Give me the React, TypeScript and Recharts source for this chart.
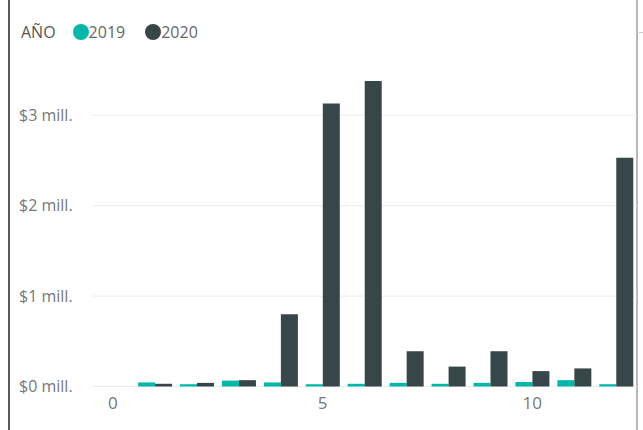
import { BarChart, Bar, XAxis, YAxis, CartesianGrid } from "recharts";

const meses = [0, 1, 2, 3, 4, 5, 6, 7, 8, 9, 10, 11, 12];
// ventas en millones de dólares
const ventas2019 = [null, 0.045, 0.025, 0.065, 0.045, 0.025, 0.03, 0.04, 0.03, 0.04, 0.05, 0.07, 0.025];
const ventas2020 = [null, 0.03, 0.04, 0.07, 0.8, 3.13, 3.38, 0.39, 0.22, 0.39, 0.17, 0.2, 2.53];
const yTicks = [0, 1, 2, 3];

const series = [
  { key: "v2019", name: "2019", color: "#01B8AA" },
  { key: "v2020", name: "2020", color: "#374649" },
];

const data = meses.map((m, i) => ({ mes: m, v2019: ventas2019[i], v2020: ventas2020[i] }));

const font = "'Open Sans', 'Noto Sans', sans-serif";

function YTick({ y, payload }: any) {
  return (
    <text x={19} y={y} dy={5.5} textAnchor="start" fill="#777" fontSize={16} fontFamily={font}>
      {`$${payload.value} mill.`}
    </text>
  );
}

function LegendBox() {
  return (
    <div
      style={{
        position: "absolute",
        left: 21,
        top: 22,
        display: "flex",
        alignItems: "center",
        fontFamily: font,
        fontSize: 16,
        color: "#666",
        lineHeight: "20px",
      }}
    >
      <span style={{ color: "#555", marginRight: 17, fontWeight: 500 }}>AÑO</span>
      {series.map((s) => (
        <span key={s.key} style={{ display: "flex", alignItems: "center", marginRight: 20 }}>
          <span
            style={{ width: 16, height: 16, borderRadius: "50%", background: s.color, display: "inline-block", marginRight: 0 }}
          />
          {s.name}
        </span>
      ))}
    </div>
  );
}

export default function App() {
  return (
    <div style={{ position: "absolute", left: 0, top: 0, width: 643, height: 430, background: "#fff" }}>
      <div style={{ position: "absolute", left: 8, top: 0, width: 2, height: 430, background: "#5a5a5a" }} />
      <div style={{ position: "absolute", left: 636, top: 0, width: 2, height: 430, background: "#b8b8b8" }} />
      <div style={{ position: "absolute", left: 639, top: 32, width: 4, height: 1, background: "#ccc" }} />
      <LegendBox />
      <BarChart
        width={643}
        height={430}
        data={data}
        margin={{ top: 61, right: 6, bottom: 0, left: 0 }}
        barCategoryGap="10%"
        barGap={0}
      >
        <CartesianGrid vertical={false} stroke="#ebebeb" horizontalValues={yTicks} />
        <XAxis
          dataKey="mes"
          interval={4}
          tickLine={false}
          axisLine={false}
          height={43.5}
          tickMargin={4}
          tick={{ fill: "#777", fontSize: 17, fontFamily: font }}
        />
        <YAxis
          width={92}
          domain={[0, 3.6]}
          ticks={yTicks}
          tickLine={false}
          axisLine={false}
          tick={<YTick />}
        />
        {series.map((s) => (
          <Bar key={s.key} dataKey={s.key} name={s.name} fill={s.color} isAnimationActive={false} />
        ))}
      </BarChart>
    </div>
  );
}
